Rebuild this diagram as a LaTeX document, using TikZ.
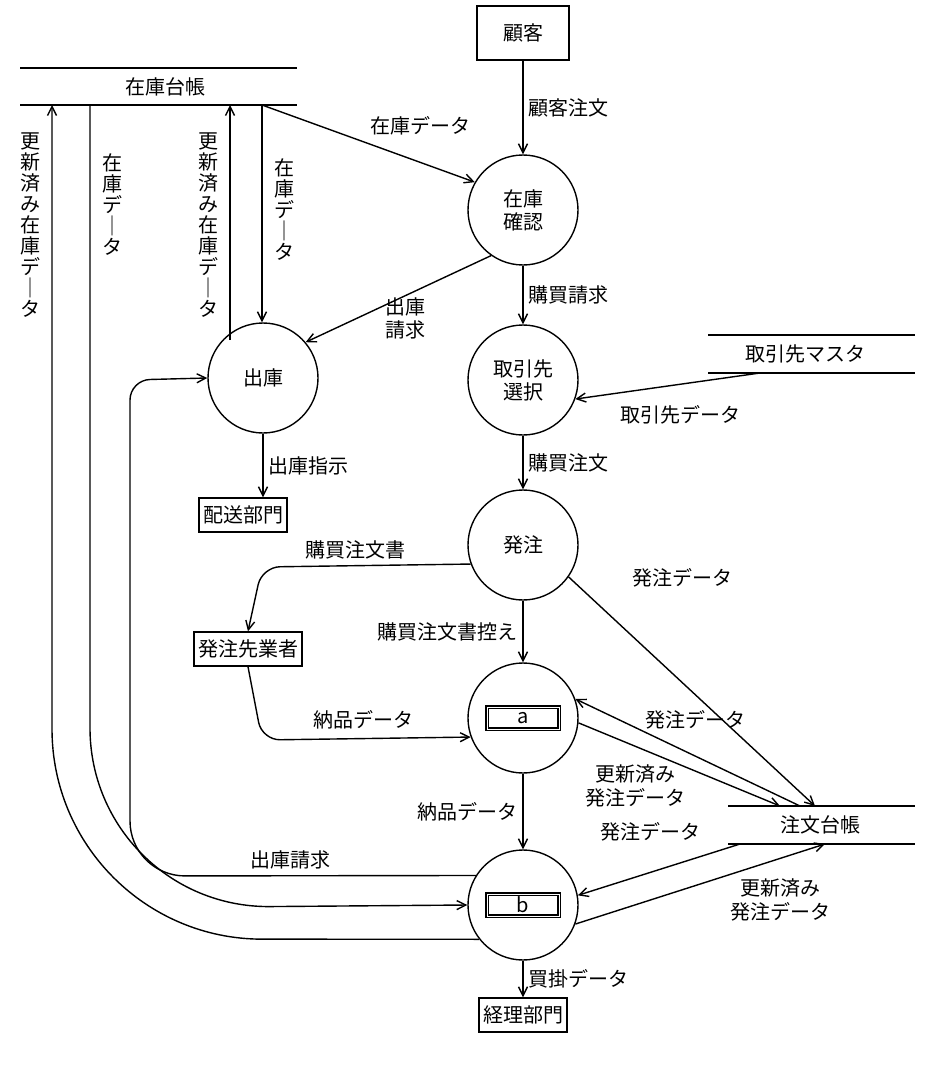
\documentclass[tikz,border=0pt]{standalone}
\usepackage{fontspec}
\setmainfont{Noto Sans CJK JP}
\usetikzlibrary{arrows.meta}
\begin{document}
\begin{tikzpicture}[x=1pt,y=-1pt,line width=1.4pt,
  every node/.style={font=\fontsize{20}{23}\selectfont},
  proc/.style={circle,draw,minimum size=110pt,inner sep=0pt,align=center},
  ext/.style={draw,minimum height=34pt,inner sep=4pt},
  lab/.style={align=center,inner sep=1pt},
  vlab/.style={align=center,inner sep=0pt,font=\fontsize{20}{21}\selectfont},
  a/.style={-{Straight Barb[length=9pt,width=9pt]}}]
\useasboundingbox (0,0) rectangle (928,1078);
% externals
\node[ext,minimum width=92pt,minimum height=54pt] (kokyaku) at (523,33) {顧客};
\node[ext] (haiso) at (243,515) {配送部門};
\node[ext] (gyosha) at (248,649) {発注先業者};
\node[ext] (keiri) at (523,1015) {経理部門};
% stores
\node (zaiko) at (165,87) {在庫台帳};
\draw (20,68) -- (297,68) (20,105) -- (297,105);
\node (torimaster) at (805,354) {取引先マスタ};
\draw (708,335) -- (915,335) (708,373) -- (915,373);
\node (chumon) at (820,825) {注文台帳};
\draw (728,806) -- (915,806) (728,844) -- (915,844);
\coordinate (zk262) at (262,105);
\coordinate (zk230) at (230,105);
\coordinate (zk90) at (90,105);
\coordinate (zk52) at (52,105);
\coordinate (tm) at (760,373);
\coordinate (ch1) at (815,806);
\coordinate (ch2) at (800,806);
\coordinate (ch3) at (780,806);
\coordinate (ch4) at (740,844);
\coordinate (ch5) at (825,844);
% processes
\node[proc] (kakunin) at (523,210) {在庫\\確認};
\node[proc] (shukko) at (263,378) {出庫};
\node[proc] (sentaku) at (523,380) {取引先\\選択};
\node[proc] (hatchu) at (523,545) {発注};
\node[proc] (pa) at (523,718) {};
\node[draw,line width=1.4pt,double,double distance=1pt,minimum width=72pt,minimum height=22pt,inner sep=0pt] at (pa) {a};
\node[proc] (pb) at (523,905) {};
\node[draw,line width=1.4pt,double,double distance=1pt,minimum width=72pt,minimum height=22pt,inner sep=0pt] at (pb) {b};
% flows
\draw[a] (kokyaku) -- (kakunin) node[lab,midway,right=4pt] {顧客注文};
\draw[a] (zk262) -- (kakunin.150);
\node[lab] at (420,126) {在庫データ};
\draw[a] (zk262) -- (shukko.north -| zk262);
\node[vlab] at (284,210) {在\\庫\\デ\\｜\\タ};
\draw[a] (230,340) -- (zk230);
\node[vlab] at (208,225) {更\\新\\済\\み\\在\\庫\\デ\\｜\\タ};
\draw[a] (kakunin.235) -- (shukko.40);
\node[lab] at (405,318) {出庫\\請求};
\draw[a] (kakunin) -- (sentaku) node[lab,midway,right=4pt] {購買請求};
\draw[a] (tm) -- (sentaku.-20);
\node[lab] at (680,415) {取引先データ};
\draw[a] (sentaku) -- (hatchu) node[lab,midway,right=4pt] {購買注文};
\draw[a] (shukko.south) -- (shukko.south |- haiso.north) node[lab,midway,right=4pt] {出庫指示};
\draw[a,rounded corners=18] (hatchu.200) -- (262,567) -- (gyosha.north);
\node[lab] at (355,550) {購買注文書};
\draw[a] (hatchu) -- (pa) node[lab,midway,left=4pt] {購買注文書控え};
\draw[a,rounded corners=18] (gyosha.south) -- (262,740) -- (pa.200);
\node[lab] at (363,720) {納品データ};
\draw[a] (hatchu.-35) -- (ch1);
\node[lab] at (682,578) {発注データ};
\draw[a] (ch2) -- (pa.20);
\node[lab] at (695,720) {発注データ};
\draw[a] (pa.-5) -- (ch3);
\node[lab,font=\fontsize{20}{24}\selectfont] at (635,786) {更新済み\\発注データ};
\draw[a] (pa) -- (pb) node[lab,midway,left=4pt] {納品データ};
\draw[a] (ch4) -- (pb.10);
\node[lab] at (650,832) {発注データ};
\draw[a] (pb.-20) -- (ch5);
\node[lab,font=\fontsize{20}{24}\selectfont] at (780,900) {更新済み\\発注データ};
\draw[a] (pb) -- (keiri) node[lab,midway,right=4pt] {買掛データ};
\draw[a,rounded corners=55] (pb.148) -- (130,876) [rounded corners=20] -- (130,380) -- (shukko.west);
\node[lab] at (290,860) {出庫請求};
\draw[a,rounded corners=180] (zk90) -- (90,908) -- (pb.180);
\node[vlab] at (112,205) {在\\庫\\デ\\｜\\タ};
\draw[a,rounded corners=210] (pb.218) -- (52,939) -- (zk52);
\node[vlab] at (30,225) {更\\新\\済\\み\\在\\庫\\デ\\｜\\タ};
\end{tikzpicture}
\end{document}
